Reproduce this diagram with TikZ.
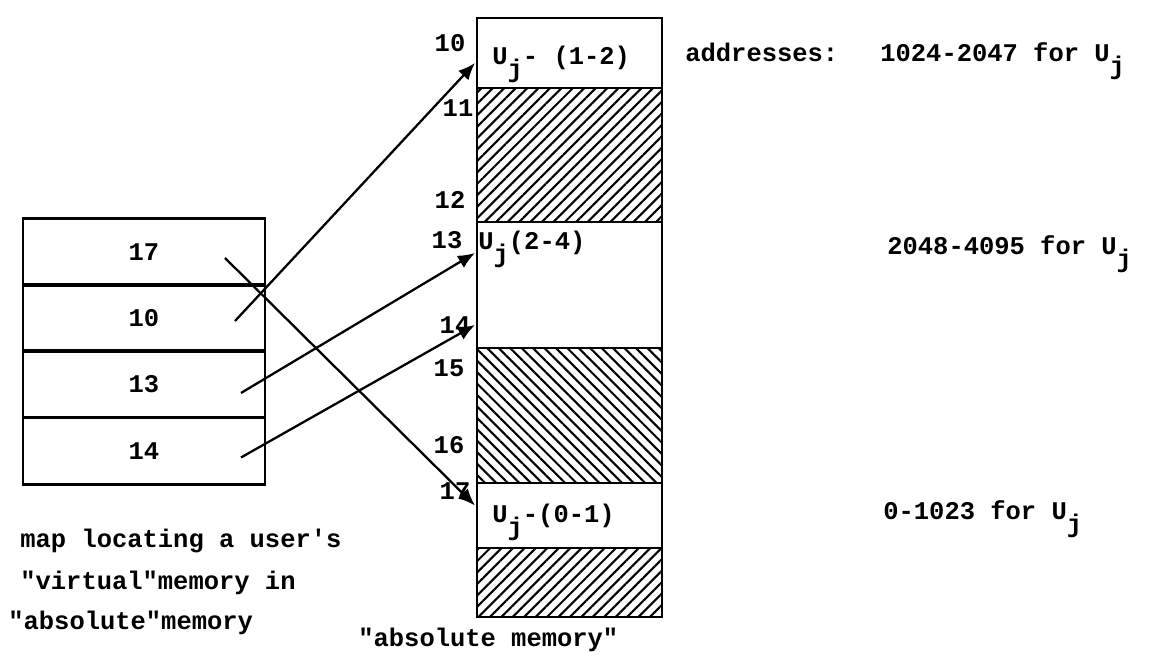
\documentclass[tikz,border=0pt]{standalone}
\usepackage{fontspec}
\setmainfont{Liberation Mono}[Ligatures=TeXOff]
\usetikzlibrary{positioning,arrows.meta,calc,patterns.meta}
\newcommand{\Usub}{U\raisebox{-0.9ex}{j}}
\tikzset{
  maprow/.style={draw, line width=1.5pt, minimum width=4.84cm, minimum height=1.33cm, inner sep=0pt, outer sep=0pt},
  memblock/.style={draw, line width=1.5pt, minimum width=3.7cm, inner sep=0pt, outer sep=0pt},
  hatchup/.style={memblock, pattern={Lines[angle=45, distance=4.6pt, line width=1.2pt]}},
  hatchdown/.style={memblock, pattern={Lines[angle=-45, distance=4.6pt, line width=1.2pt]}},
  addrlabel/.style={inner sep=1pt},
  txt/.style={inner sep=0pt, anchor=base west},
  maparrow/.style={-{Latex[length=3.4mm, width=2.8mm]}, line width=1.3pt}
}

\begin{document}
\begin{tikzpicture}[every node/.style={font=\bfseries\fontsize{14.5}{17}\selectfont}]
  \useasboundingbox (0,0) rectangle (23,13.22);
  % map of the user's pages
  \node[maprow] (r17) at (2.88,8.18) {17};
  \node[maprow] (r10) at (2.88,6.86) {10};
  \node[maprow] (r13) at (2.88,5.54) {13};
  \node[maprow] (r14) at (2.88,4.20) {14};

  % absolute memory
  \node[memblock, minimum height=1.40cm] (m10) at (11.39,12.16) {};
  \node[hatchup, minimum height=2.68cm] (h11) at (11.39,10.12) {};
  \node[memblock, minimum height=2.52cm] (m13) at (11.39,7.52) {};
  \node[hatchdown, minimum height=2.70cm] (h15) at (11.39,4.91) {};
  \node[memblock, minimum height=1.30cm] (m17) at (11.39,2.91) {};
  \node[hatchup, minimum height=1.38cm] (h18) at (11.39,1.57) {};

  \node[txt] (t10) at (9.84,11.92) {\Usub- (1-2)};
  \node[txt] (t13) at (9.56,8.22) {\Usub(2-4)};
  \node[txt] (t17) at (9.84,2.76) {\Usub-(0-1)};

  % page numbers along memory
  \node[addrlabel] (n10) at (9.00,12.36) {10};
  \node[addrlabel] (n11) at (9.16,11.06) {11};
  \node[addrlabel] (n12) at (9.00,9.22) {12};
  \node[addrlabel] (n13) at (8.94,8.42) {13};
  \node[addrlabel] (n14) at (9.10,6.72) {14};
  \node[addrlabel] (n15) at (8.98,5.86) {15};
  \node[addrlabel] (n16) at (8.98,4.32) {16};
  \node[addrlabel] (n17) at (9.10,3.40) {17};

  % addresses
  \node[txt] (addr) at (13.70,11.98) {addresses:};
  \node[txt] (range1) at (17.60,11.98) {1024-2047 for \Usub};
  \node[txt] (range2) at (17.74,8.12) {2048-4095 for \Usub};
  \node[txt] (range0) at (17.66,2.82) {0-1023 for \Usub};

  % captions
  \node[txt] (cap1) at (0.40,2.27) {map locating a user's};
  \node[txt] (cap2) at (0.40,1.43) {"virtual"memory in};
  \node[txt] (cap3) at (0.16,0.63) {"absolute"memory};
  \node[txt] (memcap) at (7.16,0.28) {"absolute memory"};

  % arrows from the map into memory
  \coordinate (s17) at ($(r17.east)+(-0.80,-0.12)$);
  \coordinate (s10) at ($(r10.east)+(-0.60,-0.06)$);
  \coordinate (s13) at ($(r13.east)+(-0.48,-0.18)$);
  \coordinate (s14) at ($(r14.east)+(-0.48,-0.13)$);
  \draw[maparrow] (s10) -- ($(m10.west)+(-0.04,-0.20)$);
  \draw[maparrow] (s17) -- ($(m17.west)+(-0.04,0.20)$);
  \draw[maparrow] (s13) -- ($(m13.north west)+(-0.04,-0.62)$);
  \draw[maparrow] (s14) -- ($(m13.south west)+(-0.04,0.46)$);
\end{tikzpicture}
\end{document}
